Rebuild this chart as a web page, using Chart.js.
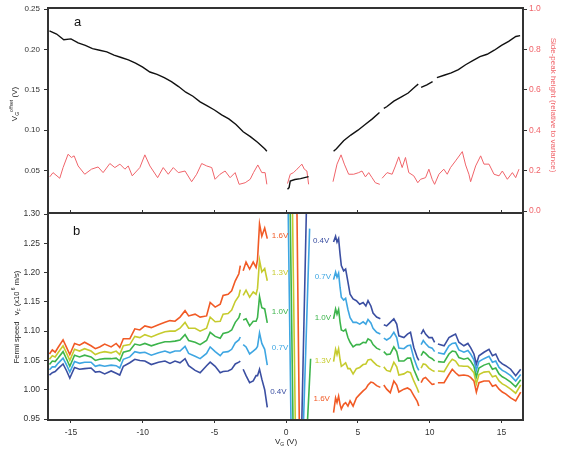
<!DOCTYPE html>
<html>
<head>
<meta charset="utf-8">
<script src="https://cdn.jsdelivr.net/npm/chart.js@4.4.1/dist/chart.umd.min.js"></script>
<style>
  body { margin: 0; background: #fff; }
  #wrap { position: relative; width: 572px; height: 450px; }
  canvas { position: absolute; left: 0; top: 0; }
</style>
</head>
<body>
<div id="wrap">
  <canvas id="cb" width="572" height="450"></canvas>
  <canvas id="ca" width="572" height="450"></canvas>
</div>
<script>
// ---- panel a : offset voltage (left axis) ----
const offsetLeftX = [-16.5,-16,-15.5,-15,-14.5,-14,-13.5,-13,-12.5,-12,-11.5,-11,-10.5,-10,-9.5,-9,-8.5,-8,-7.5,-7,-6.5,-6,-5.5,-5,-4.5,-4,-3.5,-3,-2.5,-2,-1.5,-1.35];
const offsetLeftY = [0.223,0.219,0.212,0.213,0.208,0.205,0.201,0.199,0.197,0.193,0.190,0.187,0.183,0.178,0.172,0.169,0.165,0.160,0.154,0.147,0.142,0.135,0.130,0.125,0.119,0.114,0.107,0.098,0.092,0.085,0.077,0.074];
const offsetMidX = [0.09,0.2,0.28,0.6,1.0,1.56];
const offsetMidY = [0.027,0.029,0.037,0.039,0.040,0.0425];
const offsetRightX = [3.3,3.5,4,4.5,5,5.5,6,6.5,6.65,6.8,7,7.5,8,8.5,9,9.2,9.3,9.4,9.8,10.2,10.35,10.5,11,11.5,12,12.5,13,13.5,14,14.5,15,15.5,16,16.3];
const offsetRightY = [0.074,0.077,0.087,0.094,0.100,0.107,0.114,0.122,null,0.127,0.129,0.136,0.141,0.146,0.154,0.157,null,0.153,0.156,0.160,null,0.165,0.168,0.171,0.175,0.181,0.186,0.191,0.194,0.199,0.205,0.210,0.216,0.217];

// ---- panel a : side-peak height (right axis) ----
const peakLeftX = [-16.48,-16.25,-15.78,-15.55,-15.2,-14.97,-14.78,-14.5,-14.04,-13.57,-13.11,-12.76,-12.29,-11.94,-11.59,-11.24,-11.01,-10.73,-10.2,-9.85,-9.5,-8.96,-8.57,-8.22,-7.87,-7.52,-7.05,-6.59,-6.24,-5.89,-5.54,-5.19,-4.96,-4.61,-4.26,-3.91,-3.56,-3.28,-2.86,-2.51,-2.28,-1.98,-1.7,-1.47,-1.35];
const peakLeftY = [0.169,0.19,0.162,0.215,0.281,0.265,0.273,0.223,0.182,0.207,0.218,0.19,0.235,0.215,0.232,0.207,0.223,0.174,0.215,0.278,0.223,0.165,0.215,0.182,0.215,0.19,0.198,0.145,0.182,0.235,0.223,0.215,0.157,0.182,0.198,0.165,0.19,0.132,0.14,0.157,0.19,0.228,0.19,0.19,0.132];
const peakMidX = [0.09,0.28,0.51,0.75,0.98,1.09,1.26,1.44,1.56];
const peakMidY = [0.136,0.182,0.19,0.207,0.223,0.232,0.207,0.198,0.132];
const peakRightX = [3.26,3.54,3.82,4.05,4.35,4.7,5.05,5.28,5.52,5.75,5.98,6.21,6.52,6.6,6.68,7.03,7.38,7.61,7.84,8.08,8.31,8.54,8.89,9.17,9.36,9.71,9.94,10.17,10.34,10.64,10.98,11.22,11.45,11.8,12.27,12.5,12.73,12.85,13.2,13.55,13.78,14.13,14.48,14.83,15.06,15.41,15.76,15.99,16.22];
const peakRightY = [0.145,0.232,0.278,0.232,0.182,0.182,0.19,0.198,0.169,0.19,0.165,0.14,0.132,null,0.162,0.19,0.182,0.223,0.268,0.215,0.265,0.19,0.174,0.14,0.157,0.165,0.207,0.157,0.132,0.182,0.207,0.182,0.215,0.248,0.294,0.228,0.182,0.145,0.223,0.273,0.232,0.232,0.182,0.174,0.198,0.157,0.19,0.165,0.207];

// ---- panel b : Fermi speed ----
const speedLeftX = [-16.5,-16.3,-16.1,-15.9,-15.55,-15.3,-15.08,-14.75,-14.4,-14.05,-13.6,-13.3,-13.0,-12.65,-12.2,-11.85,-11.6,-11.35,-10.9,-10.55,-10.2,-9.85,-9.4,-8.9,-8.45,-8.1,-7.75,-7.4,-7.05,-6.8,-6.35,-6.0,-5.55,-5.3,-4.95,-4.6,-4.4,-4.05,-3.8,-3.55,-3.3,-3.2,-3.1,-3.0,-2.8,-2.55,-2.3,-2.1,-2.0,-1.86,-1.7,-1.5,-1.32];
const speedRightX = [3.3,3.44,3.54,3.65,3.75,3.84,4.0,4.14,4.3,4.45,4.66,4.89,5.12,5.36,5.55,5.7,5.9,6.05,6.3,6.56,6.68,6.8,7.0,7.25,7.5,7.7,7.85,8.2,8.45,8.66,8.89,9.13,9.24,9.32,9.4,9.55,9.71,9.94,10.17,10.34,10.45,10.57,11.0,11.34,11.57,11.8,12.03,12.38,12.66,12.85,13.08,13.25,13.43,13.78,14.13,14.37,14.6,14.83,15.06,15.29,15.64,15.99,16.34];

const v04Left = [1.025,1.029,1.031,1.036,1.044,1.032,1.020,1.038,1.035,1.036,1.037,1.030,1.031,1.027,1.032,1.028,1.025,1.040,1.046,1.052,1.050,1.049,1.043,1.047,1.049,1.045,1.049,1.046,1.053,1.041,1.033,1.029,1.041,1.047,1.040,1.029,1.031,1.032,1.035,1.044,1.047,1.049,null,1.035,1.024,1.012,1.015,1.024,1.024,1.035,1.018,1.000,0.970];
const v07Left = [1.034,1.039,1.039,1.045,1.054,1.042,1.030,1.048,1.045,1.047,1.047,1.040,1.042,1.040,1.042,1.041,1.037,1.052,1.056,1.065,1.063,1.064,1.059,1.063,1.066,1.063,1.066,1.066,1.074,1.062,1.057,1.053,1.062,1.073,1.065,1.058,1.064,1.065,1.069,1.080,1.085,1.090,null,1.077,1.073,1.061,1.066,1.070,1.074,1.097,1.079,1.069,1.042];
const v10Left = [1.043,1.049,1.048,1.054,1.065,1.052,1.040,1.059,1.056,1.059,1.056,1.050,1.052,1.053,1.053,1.054,1.049,1.064,1.067,1.078,1.076,1.079,1.075,1.079,1.082,1.082,1.083,1.085,1.094,1.084,1.081,1.077,1.084,1.098,1.091,1.088,1.096,1.098,1.102,1.115,1.123,1.131,null,1.119,1.121,1.109,1.117,1.117,1.123,1.159,1.140,1.138,1.114];
const v13Left = [1.052,1.058,1.056,1.063,1.075,1.062,1.050,1.069,1.066,1.070,1.066,1.060,1.063,1.065,1.063,1.066,1.060,1.075,1.077,1.091,1.089,1.094,1.090,1.095,1.099,1.100,1.100,1.105,1.115,1.105,1.105,1.100,1.105,1.124,1.116,1.117,1.129,1.130,1.136,1.151,1.160,1.171,null,1.161,1.170,1.158,1.167,1.163,1.173,1.221,1.201,1.207,1.186];
const v16Left = [1.061,1.068,1.064,1.072,1.085,1.072,1.060,1.079,1.076,1.081,1.075,1.070,1.073,1.078,1.073,1.079,1.072,1.087,1.087,1.104,1.102,1.109,1.106,1.111,1.115,1.118,1.117,1.124,1.135,1.126,1.129,1.124,1.126,1.149,1.141,1.146,1.161,1.163,1.169,1.186,1.198,1.212,null,1.203,1.218,1.206,1.218,1.209,1.222,1.283,1.262,1.276,1.258];

const v04Right = [1.252,1.262,1.252,1.258,1.232,1.212,1.203,1.206,1.184,1.163,1.155,1.152,1.146,1.149,1.143,1.152,1.143,1.131,1.124,1.121,null,1.111,1.109,1.115,1.121,1.112,1.092,1.089,1.095,1.098,1.072,1.055,1.050,null,1.095,1.102,1.095,1.089,1.089,1.081,null,1.078,1.075,1.089,1.092,1.095,1.081,1.075,1.079,1.072,1.061,1.044,1.058,1.064,1.069,1.058,1.061,1.049,1.044,1.041,1.035,1.024,1.035];
const v07Right = [1.188,1.201,1.192,1.199,1.175,1.158,1.153,1.156,1.137,1.123,1.115,1.115,1.112,1.116,1.112,1.120,1.114,1.105,1.098,1.095,null,1.088,1.085,1.089,1.098,1.089,1.071,1.070,1.075,1.076,1.054,1.038,1.033,null,1.077,1.084,1.079,1.073,1.071,1.065,null,1.063,1.061,1.075,1.079,1.080,1.068,1.064,1.067,1.061,1.051,1.033,1.048,1.053,1.057,1.047,1.049,1.038,1.033,1.030,1.024,1.015,1.026];
const v10Right = [1.121,1.138,1.129,1.137,1.116,1.102,1.100,1.103,1.089,1.081,1.073,1.077,1.077,1.081,1.080,1.087,1.084,1.077,1.071,1.068,null,1.065,1.060,1.061,1.073,1.065,1.049,1.049,1.054,1.054,1.035,1.021,1.015,null,1.058,1.065,1.062,1.056,1.053,1.049,null,1.048,1.047,1.061,1.066,1.065,1.055,1.052,1.054,1.049,1.040,1.022,1.037,1.042,1.045,1.035,1.037,1.027,1.022,1.019,1.013,1.005,1.017];
const v13Right = [1.048,1.069,1.060,1.070,1.052,1.040,1.043,1.046,1.036,1.036,1.027,1.036,1.038,1.043,1.044,1.051,1.052,1.048,1.042,1.039,null,1.039,1.033,1.031,1.047,1.039,1.025,1.027,1.031,1.029,1.015,1.002,0.995,null,1.037,1.044,1.043,1.037,1.033,1.031,null,1.032,1.031,1.045,1.052,1.049,1.041,1.040,1.040,1.036,1.029,1.010,1.026,1.030,1.031,1.022,1.024,1.015,1.010,1.007,1.001,0.994,1.008];
const v16Right = [0.961,0.986,0.978,0.989,0.975,0.967,0.975,0.978,0.972,0.981,0.972,0.986,0.992,0.998,1.002,1.008,1.013,1.012,1.007,1.004,null,1.008,1.001,0.995,1.015,1.008,0.996,1.001,1.003,1.000,0.990,0.980,0.972,null,1.012,1.019,1.021,1.015,1.009,1.010,null,1.012,1.012,1.026,1.035,1.029,1.024,1.025,1.024,1.021,1.015,0.996,1.012,1.015,1.015,1.006,1.008,1.001,0.996,0.993,0.986,0.981,0.996];

// steep traces near the Dirac point
const v04CenterX = [1.40,1.09];
const v04CenterY = [1.30,0.95];
const v07CenterX = [0.14,0.33,0.8,1.21,1.63];
const v07CenterY = [1.30,0.95,null,0.95,1.275];
const v10CenterX = [0.28,0.47,1.0,1.49,1.70];
const v10CenterY = [1.30,0.95,null,0.95,1.053];
const v13CenterX = [0.44,0.63];
const v13CenterY = [1.30,0.95];
const v16CenterX = [0.75,0.91];
const v16CenterY = [1.30,0.95];

const xTicks = [-15,-10,-5,0,5,10,15];
const offsetTicks = [0.05,0.10,0.15,0.20,0.25];
const peakTicks = [0,0.2,0.4,0.6,0.8,1.0];
const speedTicks = [0.95,1.00,1.05,1.10,1.15,1.20,1.25,1.30];

const FONT = '"Liberation Sans", Arial, sans-serif';
const AXIS = '#333333';
const RED = '#f0646a';
const COLORS = { v04: '#3b4fa2', v07: '#3ea6e2', v10: '#3cb44b', v13: '#c6cb2e', v16: '#f15a25' };

const pts = (xs, ys) => xs.map((x, i) => ({ x: x, y: ys[i] }));
const gap = x => ({ x: x, y: null });
const setTicks = list => scale => { scale.ticks = list.map(v => ({ value: v })); };

function drawRich(ctx, parts, x, y, rot, color) {
    ctx.save();
    ctx.translate(x, y);
    ctx.rotate(rot);
    ctx.fillStyle = color;
    ctx.textBaseline = 'middle';
    ctx.textAlign = 'left';
    let w = 0;
    parts.forEach(p => { ctx.font = p.s + 'px ' + FONT; w += ctx.measureText(p.t).width; });
    let cx = -w / 2;
    parts.forEach(p => {
        ctx.font = p.s + 'px ' + FONT;
        ctx.fillText(p.t, cx, p.dy || 0);
        cx += ctx.measureText(p.t).width;
    });
    ctx.restore();
}

function line(ctx, x1, y1, x2, y2) {
    ctx.beginPath();
    ctx.moveTo(x1, y1);
    ctx.lineTo(x2, y2);
    ctx.stroke();
}

// frame, titles and panel letter for panel a
const decorA = {
    id: 'decorA',
    afterDraw(chart) {
        const ctx = chart.ctx, a = chart.chartArea;
        ctx.save();
        ctx.strokeStyle = AXIS;
        ctx.lineWidth = 2;
        line(ctx, a.left, a.top - 2, a.left, a.bottom + 3);
        line(ctx, a.right, a.top - 2, a.right, a.bottom + 3);
        line(ctx, a.left - 1, a.top - 1, a.right + 1, a.top - 1);
        ctx.fillStyle = '#111';
        ctx.font = '13px ' + FONT;
        ctx.textBaseline = 'middle';
        ctx.fillText('a', 74, 22);
        ctx.restore();
        drawRich(ctx, [
            { t: 'V', s: 8 }, { t: 'G', s: 5, dy: 2.5 }, { t: 'offset', s: 5, dy: -3 }, { t: ' (V)', s: 8 }
        ], 15, 104, -Math.PI / 2, '#222');
        drawRich(ctx, [{ t: 'Side-peak height (relative to variance)', s: 8 }], 553, 105, Math.PI / 2, RED);
    }
};

// frame, titles and trace tags for panel b
const tagsLeft = [['1.6V', -1.0, 1.262, 'v16'], ['1.3V', -1.0, 1.200, 'v13'], ['1.0V', -1.0, 1.133, 'v10'], ['0.7V', -1.0, 1.072, 'v07'], ['0.4V', -1.12, 0.997, 'v04']];
const tagsRight = [['0.4V', 1.86, 1.255, 'v04'], ['0.7V', 1.98, 1.193, 'v07'], ['1.0V', 1.98, 1.123, 'v10'], ['1.3V', 1.98, 1.049, 'v13'], ['1.6V', 1.9, 0.984, 'v16']];

const decorB = {
    id: 'decorB',
    afterDraw(chart) {
        const ctx = chart.ctx, a = chart.chartArea;
        const xs = chart.scales.x, ys = chart.scales.y;
        ctx.save();
        ctx.strokeStyle = AXIS;
        ctx.lineWidth = 2;
        line(ctx, a.left, a.top - 2, a.left, a.bottom + 2);
        line(ctx, a.right, a.top - 2, a.right, a.bottom + 2);
        line(ctx, a.left - 1, a.top - 1, a.right + 1, a.top - 1);
        line(ctx, a.left - 1, a.bottom + 1, a.right + 1, a.bottom + 1);
        ctx.font = '8px ' + FONT;
        ctx.textBaseline = 'middle';
        ctx.textAlign = 'left';
        tagsLeft.concat(tagsRight).forEach(t => {
            ctx.fillStyle = COLORS[t[3]];
            ctx.fillText(t[0], xs.getPixelForValue(t[1]), ys.getPixelForValue(t[2]));
        });
        ctx.fillStyle = '#111';
        ctx.font = '13px ' + FONT;
        ctx.fillText('b', 73, 231);
        ctx.restore();
        drawRich(ctx, [
            { t: 'Fermi speed   ', s: 7.5 }, { t: 'v', s: 8 }, { t: 'F', s: 5, dy: 2.5 },
            { t: ' (x10', s: 7.5 }, { t: ' 6', s: 5, dy: -3 }, { t: ' m/s)', s: 7.5 }
        ], 17, 317, -Math.PI / 2, '#222');
        drawRich(ctx, [{ t: 'V', s: 8 }, { t: 'G', s: 5, dy: 2.5 }, { t: ' (V)', s: 8 }], 286, 442, 0, '#222');
    }
};

const tickGrid = { drawOnChartArea: false, tickLength: 4, color: AXIS, lineWidth: 1 };

new Chart(document.getElementById('ca'), {
    type: 'line',
    data: {
        datasets: [
            {
                data: [...pts(offsetLeftX, offsetLeftY), gap(-0.5), ...pts(offsetMidX, offsetMidY), gap(2.5), ...pts(offsetRightX, offsetRightY)],
                borderColor: '#111', borderWidth: 1.4, yAxisID: 'y', xAxisID: 'x'
            },
            {
                data: [...pts(peakLeftX, peakLeftY), gap(-0.5), ...pts(peakMidX, peakMidY), gap(2.5), ...pts(peakRightX, peakRightY)],
                borderColor: RED, borderWidth: 1, yAxisID: 'y1', xAxisID: 'x'
            }
        ]
    },
    options: {
        responsive: false,
        animation: false,
        devicePixelRatio: 1,
        layout: { padding: { top: 9, bottom: 239 } },
        elements: { point: { radius: 0 }, line: { tension: 0 } },
        plugins: { legend: { display: false }, tooltip: { enabled: false } },
        scales: {
            x: { type: 'linear', min: -16.6, max: 16.5, display: false },
            y: {
                position: 'left', min: 0, max: 0.25,
                afterBuildTicks: setTicks(offsetTicks),
                afterFit: s => { s.width = 48; },
                ticks: { font: { family: FONT, size: 8 }, color: AXIS, padding: 4, callback: v => v.toFixed(2) },
                grid: tickGrid, border: { display: false }
            },
            y1: {
                position: 'right', min: 0, max: 1,
                afterBuildTicks: setTicks(peakTicks),
                afterFit: s => { s.width = 49; },
                ticks: { font: { family: FONT, size: 8.5 }, color: RED, padding: 2, callback: v => v.toFixed(1) },
                grid: tickGrid, border: { display: false }
            }
        }
    },
    plugins: [decorA]
});

const speedSets = [
    ['v04', v04Left, v04CenterX, v04CenterY, v04Right],
    ['v07', v07Left, v07CenterX, v07CenterY, v07Right],
    ['v10', v10Left, v10CenterX, v10CenterY, v10Right],
    ['v13', v13Left, v13CenterX, v13CenterY, v13Right],
    ['v16', v16Left, v16CenterX, v16CenterY, v16Right]
];

new Chart(document.getElementById('cb'), {
    type: 'line',
    data: {
        datasets: speedSets.map(s => ({
            data: [...pts(speedLeftX, s[1]), gap(-0.6), ...pts(s[2], s[3]), gap(2.6), ...pts(speedRightX, s[4])],
            borderColor: COLORS[s[0]], borderWidth: 1.6, xAxisID: 'x', yAxisID: 'y'
        }))
    },
    options: {
        responsive: false,
        animation: false,
        devicePixelRatio: 1,
        layout: { padding: { right: 49 } },
        elements: { point: { radius: 0 }, line: { tension: 0 } },
        plugins: { legend: { display: false }, tooltip: { enabled: false } },
        scales: {
            x: {
                type: 'linear', position: 'bottom', min: -16.6, max: 16.5,
                afterBuildTicks: setTicks(xTicks),
                afterFit: s => { s.height = 31; },
                ticks: { font: { family: FONT, size: 8.5 }, color: AXIS, padding: 5, maxRotation: 0, autoSkip: false, callback: v => String(v) },
                grid: tickGrid, border: { display: false }
            },
            xTop: {
                type: 'linear', position: 'top', min: -16.6, max: 16.5,
                afterBuildTicks: setTicks(xTicks),
                afterFit: s => { s.height = 214; },
                ticks: { display: false },
                grid: tickGrid, border: { display: false }
            },
            y: {
                position: 'left', min: 0.95, max: 1.30,
                afterBuildTicks: setTicks(speedTicks),
                afterFit: s => { s.width = 48; },
                ticks: { font: { family: FONT, size: 8.5 }, color: AXIS, padding: 4, callback: v => v.toFixed(2) },
                grid: tickGrid, border: { display: false }
            }
        }
    },
    plugins: [decorB]
});
</script>
</body>
</html>
